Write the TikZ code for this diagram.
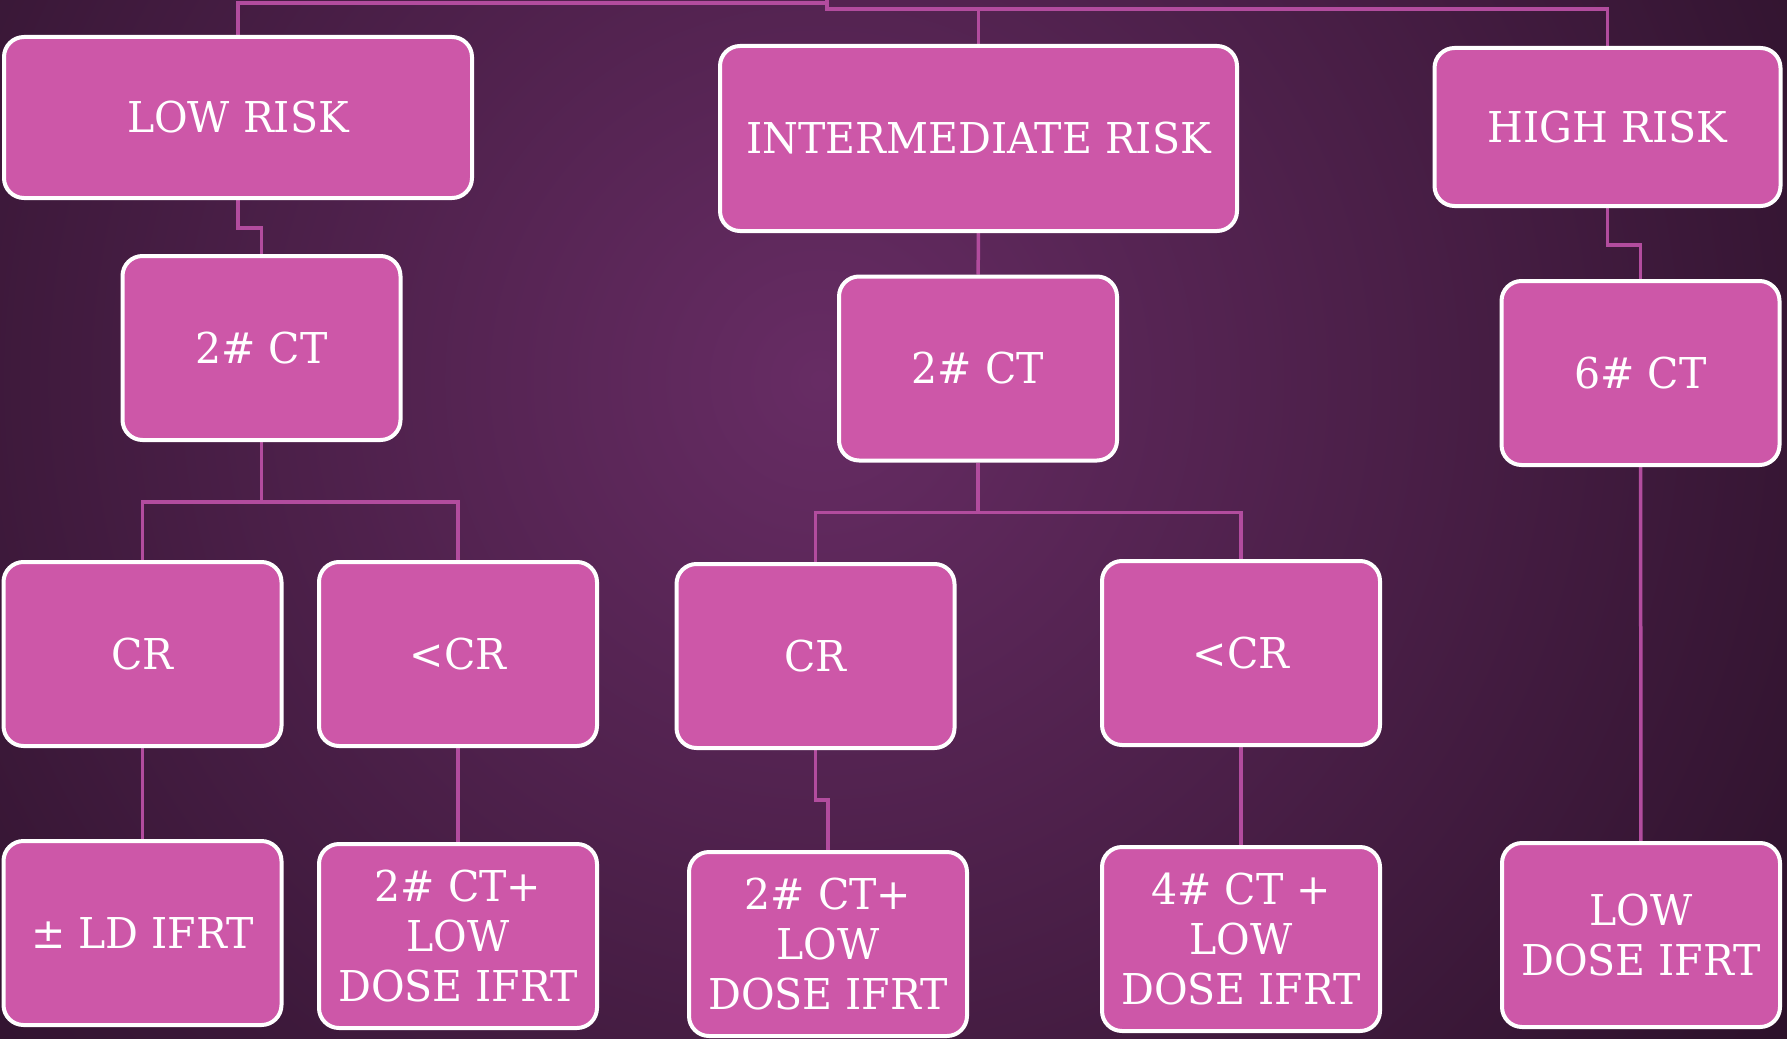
\documentclass[tikz,border=0pt]{standalone}
\usepackage{fontspec}
\setmainfont[FakeStretch=0.965]{DejaVu Serif}
\usepackage{tikz}
\usetikzlibrary{backgrounds}

\definecolor{boxpink}{HTML}{CD57A8}
\definecolor{linkpink}{HTML}{B24C9E}
\definecolor{bgin}{HTML}{672C64}
\definecolor{bgout}{HTML}{1C0A1A}

\pgfdeclarelayer{back}
\pgfsetlayers{back,background,main}

\begin{document}
\begin{tikzpicture}[x=1pt,y=-1pt,
  box/.style={draw=white,line width=4pt,fill=boxpink,rounded corners=20pt,text=white,align=center,
    font=\fontsize{42.5}{50}\selectfont,minimum width=278pt,minimum height=184pt,inner sep=0pt},
  link/.style={draw=linkpink,line width=3.5pt}]
  \useasboundingbox (0,0) rectangle (1787,1038);
  \clip (0,0) rectangle (1787,1038);
  \begin{pgfonlayer}{back}
    \fill[bgout] (0,0) rectangle (1787,1038);
    \shade[inner color=bgin,outer color=bgout] (820,380) circle[radius=1500pt];
  \end{pgfonlayer}

  % risk groups
  \node[box,minimum width=468pt,minimum height=161pt] (lowrisk) at (238,117.5) {LOW RISK};
  \node[box,minimum width=517pt,minimum height=185pt] (intrisk) at (978.5,138.5) {INTERMEDIATE RISK};
  \node[box,minimum width=346pt,minimum height=158pt] (highrisk) at (1607.5,127) {HIGH RISK};
  % chemo
  \node[box] (lowct) at (261.5,348) {2\# CT};
  \node[box] (intct) at (978,368.5) {2\# CT};
  \node[box] (highct) at (1640.5,373) {6\# CT};
  % response
  \node[box] (lowcr) at (142.5,654) {CR};
  \node[box] (lowless) at (458,654) {<CR};
  \node[box] (intcr) at (815.5,656) {CR};
  \node[box] (intless) at (1241,653) {<CR};
  % treatment
  \node[box] (lowld) at (142.5,933) {± LD IFRT};
  \node[box] (lowrt) at (458,936) {2\# CT+\\LOW\\DOSE IFRT};
  \node[box] (intrt) at (828,944) {2\# CT+\\LOW\\DOSE IFRT};
  \node[box] (intfour) at (1241,939) {4\# CT +\\LOW\\DOSE IFRT};
  \node[box] (highld) at (1641,935) {LOW\\DOSE IFRT};

  \coordinate (root) at (827,-10);
  \begin{pgfonlayer}{background}
    \draw[link] (root) -- ++(0,13) -| (lowrisk.north);
    \draw[link] (root) -- ++(0,19) -| (intrisk.north);
    \draw[link] (root) -- ++(0,19) -| (highrisk.north);
    \draw[link] (lowrisk.south) -- ++(0,28) -| (lowct.north);
    \draw[link] (intrisk) -- (intct);
    \draw[link] (highrisk.south) -- ++(0,37) -| (highct.north);
    \draw[link] (lowct.south) -- ++(0,60) -| (lowcr.north);
    \draw[link] (lowct.south) -- ++(0,60) -| (lowless.north);
    \draw[link] (intct.south) -- ++(0,50) -| (intcr.north);
    \draw[link] (intct.south) -- ++(0,50) -| (intless.north);
    \draw[link] (lowcr) -- (lowld);
    \draw[link] (lowless) -- (lowrt);
    \draw[link] (intcr.south) -- ++(0,50) -| (intrt.north);
    \draw[link] (intless) -- (intfour);
    \draw[link] (highct) -- (highld);
  \end{pgfonlayer}
\end{tikzpicture}
\end{document}
